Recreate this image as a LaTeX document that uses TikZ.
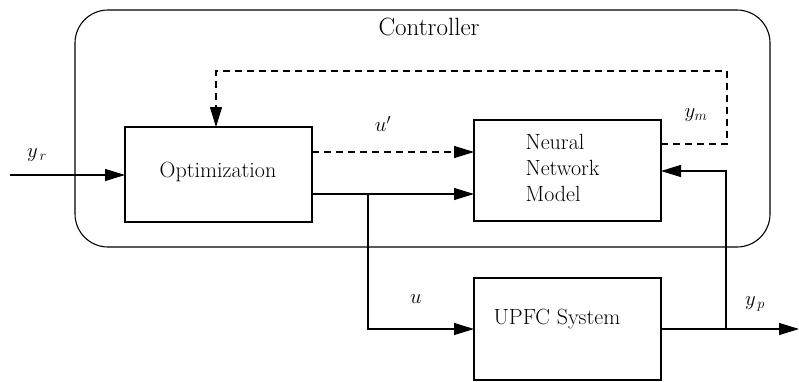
\documentclass[tikz,border=0pt]{standalone}
\usetikzlibrary{arrows.meta}
\begin{document}
\begin{tikzpicture}[x=1pt,y=-1pt,
  line width=1.1pt,
  blk/.style={draw, line width=1.1pt},
  lbl/.style={font=\fontsize{22}{26}\selectfont, inner sep=0pt},
  mlbl/.style={font=\fontsize{20}{24}\selectfont, inner sep=0pt},
  sig/.style={-{Triangle[length=20pt,width=12pt]}},
  dsh/.style={dash pattern=on 7pt off 5pt}]
\useasboundingbox (0,0) rectangle (799,381);

% controller frame
\draw[rounded corners=33pt] (75,10) rectangle (770,247);
\node[lbl, font=\fontsize{25}{28}\selectfont] (ctl) at (429,27) {Controller};

% blocks
\draw[blk] (125,127) rectangle (312,222);
\node[lbl] (optl) at (218,172) {Optimization};

\draw[blk] (474,120) rectangle (661,221);
\node[lbl, align=left, anchor=north west, font=\fontsize{22}{26}\selectfont] (nnl) at (525,134) {Neural\\Network\\Model};

\draw[blk] (474,278) rectangle (661,380);
\node[lbl] (upl) at (557,319) {UPFC System};

% signal points
\coordinate (in)    at (10,175);
\coordinate (optW)  at (125,175);
\coordinate (optE1) at (312,152);
\coordinate (optE2) at (312,194);
\coordinate (nnW1)  at (474,152);
\coordinate (nnW2)  at (474,194);
\coordinate (nnE1)  at (661,144);
\coordinate (nnE2)  at (661,171);
\coordinate (upW)   at (474,329);
\coordinate (upE)   at (661,329);
\coordinate (out)   at (799,329);
\coordinate (optN)  at (216,127);
\coordinate (ju)    at (368,194);
\coordinate (jy)    at (726,329);

% connectors
\draw[sig] (in) -- (optW);
\draw[sig, dsh] (optE1) -- (nnW1);
\draw[sig] (optE2) -- (nnW2);
\draw[sig] (ju) |- (upW);
\draw[sig] (upE) -- (out);
\draw[sig] (jy) |- (nnE2);
\draw[sig, dsh] (nnE1) -- (727,144) -- (727,71) -| (optN);

% labels
\node[mlbl] (lyr) at (37,155) {$y_{\,r}$};
\node[mlbl] (lup) at (383,124) {$u'$};
\node[mlbl] (lym) at (696,115) {$y_m$};
\node[mlbl] (lu)  at (416,299) {$u$};
\node[mlbl] (lyp) at (755,304) {$y_{\,p}$};
\end{tikzpicture}
\end{document}
